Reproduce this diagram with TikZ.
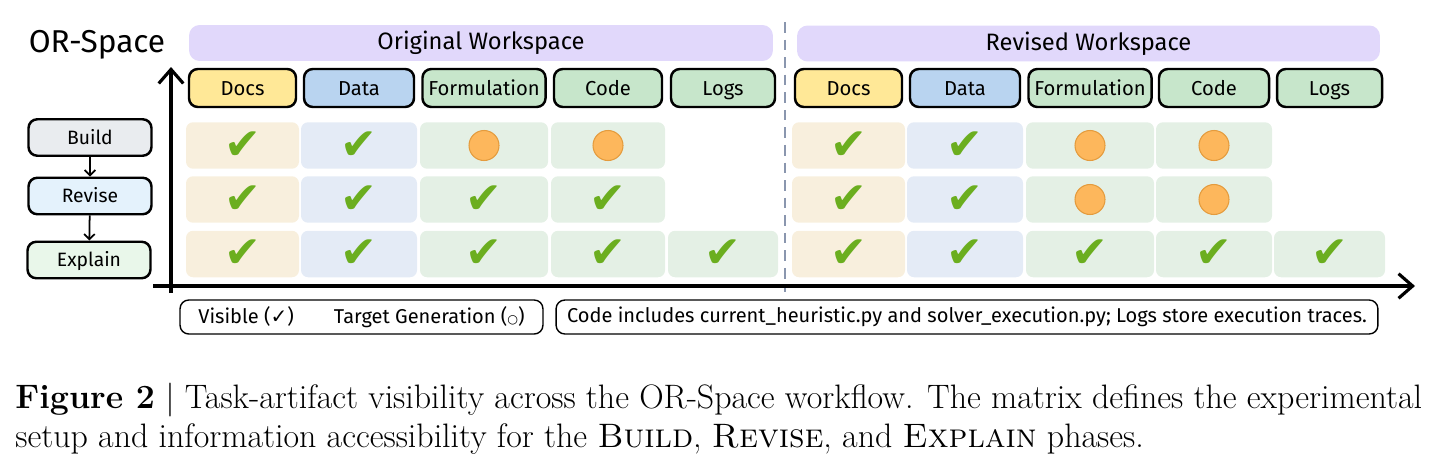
\documentclass[tikz,border=0pt]{standalone}
\usepackage{fontspec}
\setsansfont{Fira Sans}
\newfontfamily\symfont{DejaVu Sans}
\usetikzlibrary{arrows.meta}

\definecolor{docsfill}{HTML}{FFE897}
\definecolor{datafill}{HTML}{B9D4F0}
\definecolor{greenfill}{HTML}{C7E6CB}
\definecolor{docscell}{HTML}{F8EFDD}
\definecolor{datacell}{HTML}{E4EBF6}
\definecolor{greencell}{HTML}{E4F0E5}
\definecolor{bannerfill}{HTML}{E1D8FB}
\definecolor{tickgreen}{HTML}{6BAE1F}
\definecolor{dotfill}{HTML}{FDB75C}
\definecolor{dotdraw}{HTML}{E49B3D}
\definecolor{dashgray}{HTML}{8A96AE}
\definecolor{buildfill}{HTML}{E9ECEF}
\definecolor{revisefill}{HTML}{E4F2FC}
\definecolor{explainfill}{HTML}{E9F7EA}

\tikzset{
  banner/.style={fill=bannerfill, rounded corners=6pt, minimum height=0.72cm, font=\sffamily\fontsize{13.5}{15}\selectfont},
  hdr/.style={draw=black, line width=1.4pt, rounded corners=5pt, minimum height=0.76cm, text height=9pt, text depth=0.8pt, font=\sffamily\fontsize{11.5}{13}\selectfont},
  cellbg/.style={rounded corners=4pt, minimum height=0.93cm},
  tickmark/.style={text=tickgreen, font=\symfont\fontsize{25}{25}\selectfont},
  gendot/.style={circle, fill=dotfill, draw=dotdraw, line width=0.6pt, minimum size=0.6cm, inner sep=0pt},
  phase/.style={draw=black, line width=1.4pt, rounded corners=5pt, minimum width=2.46cm, minimum height=0.73cm, text height=8.6pt, text depth=0.8pt, font=\sffamily\fontsize{11}{13}\selectfont},
  legend/.style={draw=black, line width=0.8pt, rounded corners=5pt, minimum height=0.68cm, font=\sffamily\fontsize{11.4}{13}\selectfont},
  axis/.style={line width=1.8pt, -{Straight Barb[length=8pt,width=14pt]}},
}

\begin{document}
\begin{tikzpicture}[x=0.02cm, y=-0.02cm]
\useasboundingbox (0,0) rectangle (1442,470);
% title and workspaces
\node[font=\sffamily\fontsize{18}{20}\selectfont] (title) at (97,45) {OR-Space};
\node[banner, minimum width=11.68cm] (orig) at (481,43) {Original Workspace};
\node[banner, minimum width=11.66cm] (rev) at (1088.5,43.5) {Revised Workspace};
\coordinate (sepTop) at (785,22);
\coordinate (sepBot) at (785,292);
\draw[dashgray, line width=1.2pt, dash pattern=on 6pt off 4pt] (sepTop) -- (sepBot);
% columns: n / left / right / colour / label / marks per phase (0 none, 1 visible, 2 target)
\foreach \n/\l/\r/\col/\lab/\ma/\mb/\mc in {
  1/189/296/docs/Docs/1/1/1, 2/304/414/data/Data/1/1/1, 3/423/545/green/Formulation/2/1/1,
  4/554/662/green/Code/2/1/1, 5/671/775/green/Logs/0/0/1,
  6/795/902/docs/Docs/1/1/1, 7/910/1020/data/Data/1/1/1, 8/1029/1151/green/Formulation/2/2/1,
  9/1159/1269/green/Code/2/2/1, 10/1277/1382/green/Logs/0/0/1} {
  \pgfmathsetmacro\w{(\r-\l)*0.02}
  \pgfmathsetmacro\cw{(\r-\l+6)*0.02}
  \node[hdr, fill=\col fill, minimum width=\w cm] (h\n) at ({(\l+\r)/2},88) {\lab};
  \foreach \row/\y/\m in {1/145.5/\ma, 2/199.5/\mb, 3/254/\mc} {
    \ifnum\m>0
      \node[cellbg, fill=\col cell, minimum width=\cw cm] (c\n-\row) at ({(\l+\r)/2},\y) {};
    \fi
    \ifnum\m=1 \node[tickmark] (t\n-\row) at (c\n-\row) {✔}; \fi
    \ifnum\m=2 \node[gendot] (t\n-\row) at (c\n-\row) {}; \fi
  }
}
% phases
\node[phase, fill=buildfill] (build) at (90,137.5) {Build};
\node[phase, fill=revisefill] (revise) at (90,196) {Revise};
\node[phase, fill=explainfill] (explain) at (89,260) {Explain};
\draw[-{Straight Barb[length=3pt]}, line width=1pt] (build) -- (revise);
\draw[-{Straight Barb[length=3pt]}, line width=1pt] (revise) -- (explain);
% axes
\coordinate (yBot) at (171,293);
\coordinate (yTop) at (171,67);
\coordinate (xBeg) at (153,286);
\coordinate (xEnd) at (1415,286);
\draw[axis] (yBot) -- (yTop);
\draw[axis] (xBeg) -- (xEnd);
% legend
\node[legend, minimum width=7.26cm] (key) at (361.5,317) {Visible ({\symfont ✓})\qquad Target Generation ({\symfont\scriptsize ○})};
\node[legend, minimum width=16.44cm] (note) at (967,317) {Code includes current\_heuristic.py and solver\_execution.py; Logs store execution traces.};
% caption
\node[anchor=base west, inner sep=0pt, font=\fontsize{19.3}{22}\selectfont] (cap1) at (15,408) {\textbf{Figure 2} | Task-artifact visibility across the OR-Space workflow. The matrix defines the experimental};
\node[anchor=base west, inner sep=0pt, font=\fontsize{19.3}{22}\selectfont] (cap2) at (15,447) {setup and information accessibility for the \textsc{Build}, \textsc{Revise}, and \textsc{Explain} phases.};
\end{tikzpicture}
\end{document}
